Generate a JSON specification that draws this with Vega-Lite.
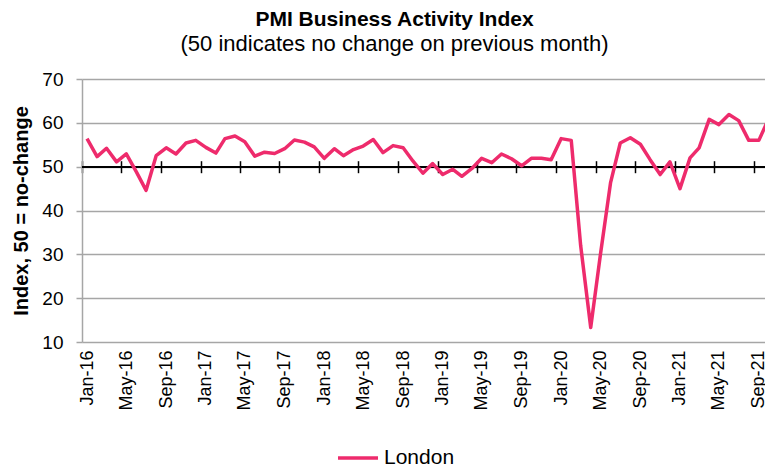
{
  "$schema": "https://vega.github.io/schema/vega-lite/v6.json",
  "width": 683,
  "height": 263,
  "autosize": {"type": "none"},
  "padding": {"left": 82, "top": 79, "right": 0, "bottom": 127},
  "config": {
    "font": "Liberation Sans",
    "view": {"stroke": null},
    "axis": {"labelFont": "Liberation Sans", "titleFont": "Liberation Sans"}
  },
  "title": {
    "text": "PMI Business Activity Index",
    "subtitle": "(50 indicates no change on previous month)",
    "anchor": "middle",
    "frame": "group",
    "dx": -29,
    "offset": 15,
    "fontSize": 21,
    "fontWeight": "bold",
    "color": "#000000",
    "subtitleFontSize": 22,
    "subtitleColor": "#000000",
    "subtitleFont": "Liberation Sans",
    "subtitlePadding": 4
  },
  "data": {
    "values": [
      {"month": "2016-01", "value": 56.4}, {"month": "2016-02", "value": 52.3}, {"month": "2016-03", "value": 54.2},
      {"month": "2016-04", "value": 51.1}, {"month": "2016-05", "value": 52.9}, {"month": "2016-06", "value": 48.8},
      {"month": "2016-07", "value": 44.6}, {"month": "2016-08", "value": 52.5}, {"month": "2016-09", "value": 54.3},
      {"month": "2016-10", "value": 52.9}, {"month": "2016-11", "value": 55.4}, {"month": "2016-12", "value": 56.0},
      {"month": "2017-01", "value": 54.4}, {"month": "2017-02", "value": 53.1}, {"month": "2017-03", "value": 56.4},
      {"month": "2017-04", "value": 57.0}, {"month": "2017-05", "value": 55.7}, {"month": "2017-06", "value": 52.4},
      {"month": "2017-07", "value": 53.3}, {"month": "2017-08", "value": 53.0}, {"month": "2017-09", "value": 54.1},
      {"month": "2017-10", "value": 56.1}, {"month": "2017-11", "value": 55.6}, {"month": "2017-12", "value": 54.5},
      {"month": "2018-01", "value": 51.9}, {"month": "2018-02", "value": 54.1}, {"month": "2018-03", "value": 52.5},
      {"month": "2018-04", "value": 53.9}, {"month": "2018-05", "value": 54.7}, {"month": "2018-06", "value": 56.2},
      {"month": "2018-07", "value": 53.2}, {"month": "2018-08", "value": 54.8}, {"month": "2018-09", "value": 54.3},
      {"month": "2018-10", "value": 51.3}, {"month": "2018-11", "value": 48.5}, {"month": "2018-12", "value": 50.7},
      {"month": "2019-01", "value": 48.2}, {"month": "2019-02", "value": 49.4}, {"month": "2019-03", "value": 47.8},
      {"month": "2019-04", "value": 49.6}, {"month": "2019-05", "value": 51.9}, {"month": "2019-06", "value": 50.9},
      {"month": "2019-07", "value": 52.9}, {"month": "2019-08", "value": 51.8}, {"month": "2019-09", "value": 50.2},
      {"month": "2019-10", "value": 51.9}, {"month": "2019-11", "value": 51.9}, {"month": "2019-12", "value": 51.6},
      {"month": "2020-01", "value": 56.4}, {"month": "2020-02", "value": 56.0}, {"month": "2020-03", "value": 32.0},
      {"month": "2020-04", "value": 13.3}, {"month": "2020-05", "value": 30.0}, {"month": "2020-06", "value": 46.3},
      {"month": "2020-07", "value": 55.4}, {"month": "2020-08", "value": 56.6}, {"month": "2020-09", "value": 55.1},
      {"month": "2020-10", "value": 51.6}, {"month": "2020-11", "value": 48.2}, {"month": "2020-12", "value": 51.1},
      {"month": "2021-01", "value": 45.0}, {"month": "2021-02", "value": 52.0}, {"month": "2021-03", "value": 54.3},
      {"month": "2021-04", "value": 60.8}, {"month": "2021-05", "value": 59.6}, {"month": "2021-06", "value": 61.9},
      {"month": "2021-07", "value": 60.5}, {"month": "2021-08", "value": 56.0}, {"month": "2021-09", "value": 56.0},
      {"month": "2021-10", "value": 60.9}
    ],
    "format": {"parse": {"month": "date:'%Y-%m'"}}
  },
  "layer": [
    {
      "mark": {"type": "rule", "color": "#000000", "strokeWidth": 1.5},
      "encoding": {
        "y": {"datum": 50, "type": "quantitative"},
        "x": {
          "datum": {"year": 2015, "month": 12, "date": 16, "hours": 12},
          "type": "temporal",
          "axis": {
            "orient": "bottom",
            "offset": -181.3,
            "domain": false,
            "grid": false,
            "labels": false,
            "title": null,
            "ticks": true,
            "tickSize": 12,
            "tickColor": "#000000",
            "tickWidth": 1.5,
            "values": [
              {"year": 2015, "month": 12, "date": 16, "hours": 12},
              {"year": 2016, "month": 4, "date": 16}, {"year": 2016, "month": 8, "date": 16}, {"year": 2016, "month": 12, "date": 16},
              {"year": 2017, "month": 4, "date": 16}, {"year": 2017, "month": 8, "date": 16}, {"year": 2017, "month": 12, "date": 16},
              {"year": 2018, "month": 4, "date": 16}, {"year": 2018, "month": 8, "date": 16}, {"year": 2018, "month": 12, "date": 16},
              {"year": 2019, "month": 4, "date": 16}, {"year": 2019, "month": 8, "date": 16}, {"year": 2019, "month": 12, "date": 16},
              {"year": 2020, "month": 4, "date": 16}, {"year": 2020, "month": 8, "date": 16}, {"year": 2020, "month": 12, "date": 16},
              {"year": 2021, "month": 4, "date": 16}, {"year": 2021, "month": 8, "date": 16}
            ]
          }
        },
        "x2": {"datum": {"year": 2021, "month": 9, "date": 20}}
      }
    },
    {
      "mark": {"type": "line", "strokeWidth": 3.5, "strokeJoin": "round", "clip": true},
      "encoding": {
        "x": {
          "field": "month",
          "type": "temporal",
          "scale": {"domain": [{"year": 2015, "month": 12, "date": 16, "hours": 12}, {"year": 2021, "month": 9, "date": 20}]},
          "axis": {
            "orient": "bottom",
            "title": null,
            "domain": false,
            "ticks": false,
            "grid": false,
            "labelAngle": -90,
            "labelAlign": "right",
            "labelBaseline": "middle",
            "labelPadding": 8,
            "labelFontSize": 18,
            "labelColor": "#000000",
            "labelOverlap": false,
            "labelFlush": false,
            "format": "%b-%y",
            "values": [
              {"year": 2016, "month": 1, "date": 1}, {"year": 2016, "month": 5, "date": 1}, {"year": 2016, "month": 9, "date": 1},
              {"year": 2017, "month": 1, "date": 1}, {"year": 2017, "month": 5, "date": 1}, {"year": 2017, "month": 9, "date": 1},
              {"year": 2018, "month": 1, "date": 1}, {"year": 2018, "month": 5, "date": 1}, {"year": 2018, "month": 9, "date": 1},
              {"year": 2019, "month": 1, "date": 1}, {"year": 2019, "month": 5, "date": 1}, {"year": 2019, "month": 9, "date": 1},
              {"year": 2020, "month": 1, "date": 1}, {"year": 2020, "month": 5, "date": 1}, {"year": 2020, "month": 9, "date": 1},
              {"year": 2021, "month": 1, "date": 1}, {"year": 2021, "month": 5, "date": 1}, {"year": 2021, "month": 9, "date": 1}
            ]
          }
        },
        "y": {
          "field": "value",
          "type": "quantitative",
          "scale": {"domain": [10, 70], "nice": false, "zero": false},
          "axis": {
            "title": "Index, 50 = no-change",
            "titleFontSize": 20,
            "titleFontWeight": "bold",
            "titleColor": "#000000",
            "titlePadding": 10,
            "values": [10, 20, 30, 40, 50, 60, 70],
            "labelFontSize": 19,
            "labelColor": "#000000",
            "labelPadding": 13,
            "domainColor": "#A6A6A6",
            "domainWidth": 1.5,
            "tickColor": "#A6A6A6",
            "tickSize": 6,
            "tickWidth": 1.5,
            "grid": true,
            "gridColor": "#A6A6A6",
            "gridWidth": 1.5
          }
        },
        "color": {
          "datum": "London",
          "type": "nominal",
          "scale": {"domain": ["London"], "range": ["#EE2B6C"]},
          "legend": {
            "title": null,
            "orient": "none",
            "legendX": 254,
            "legendY": 357,
            "symbolType": "stroke",
            "symbolSize": 1600,
            "symbolStrokeWidth": 3.5,
            "labelFontSize": 21,
            "labelColor": "#000000",
            "labelOffset": 4
          }
        }
      }
    }
  ],
  "resolve": {"axis": {"x": "independent"}}
}
